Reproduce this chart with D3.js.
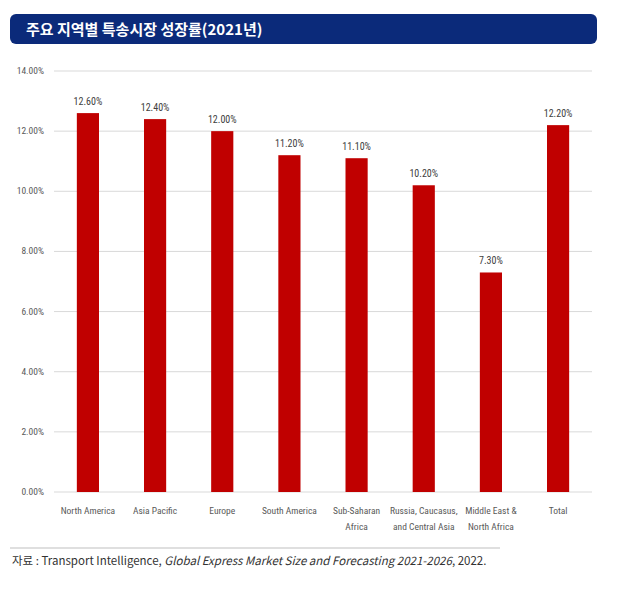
<!DOCTYPE html>
<html><head><meta charset="utf-8">
<script src="https://cdn.jsdelivr.net/npm/d3@7"></script>
<style>body{margin:0;background:#fff}</style>
</head><body><svg width="622" height="596"></svg>
<script>
var categories=[["North America"],["Asia Pacific"],["Europe"],["South America"],["Sub-Saharan","Africa"],["Russia, Caucasus,","and Central Asia"],["Middle East &","North Africa"],["Total"]]
var values=[12.6,12.4,12.0,11.2,11.1,10.2,7.3,12.2]
var ticks=[0,2,4,6,8,10,12,14]

var svg=d3.select("svg")
svg.append("rect").attr("x",10).attr("y",14).attr("width",587).attr("height",30).attr("rx",6).attr("fill","#0b2a7a")
svg.append("text").attr("x",26).attr("y",35).attr("fill","#fff").attr("font-family","Noto Sans CJK KR")
  .attr("font-size",15).attr("font-weight","bold").text("주요 지역별 특송시장 성장률(2021년)")

var x=d3.scaleBand().domain(d3.range(values.length)).range([54,592]).paddingInner(0.67).paddingOuter(0.34)
var y=d3.scaleLinear().domain([0,14]).range([492,71])
var f="Liberation Sans Narrow, Roboto Condensed, sans-serif"

svg.selectAll(".grid").data(ticks).enter().append("line")
  .attr("x1",54).attr("x2",592).attr("y1",d=>y(d)).attr("y2",d=>y(d)).attr("stroke","#d9d9d9")
svg.selectAll(".yl").data(ticks).enter().append("text")
  .attr("x",44).attr("y",d=>y(d)+3).attr("text-anchor","end").attr("font-family",f).attr("font-size",9.5).attr("fill","#595959")
  .text(d=>d.toFixed(2)+"%")

svg.selectAll(".bar").data(values).enter().append("rect")
  .attr("x",(d,i)=>x(i)).attr("width",x.bandwidth()).attr("y",d=>y(d)).attr("height",d=>y(0)-y(d)).attr("fill","#c00000")
svg.selectAll(".vl").data(values).enter().append("text")
  .attr("x",(d,i)=>x(i)+x.bandwidth()/2).attr("y",d=>y(d)-8).attr("text-anchor","middle")
  .attr("font-family",f).attr("font-size",10).attr("fill","#404040").text(d=>d.toFixed(2)+"%")

categories.forEach(function(c,i){
  c.forEach(function(t,j){
    svg.append("text").attr("x",x(i)+x.bandwidth()/2).attr("y",514+j*16).attr("text-anchor","middle")
      .attr("font-family",f).attr("font-size",9.5).attr("fill","#595959").text(t)
  })
})

svg.append("line").attr("x1",10).attr("x2",500).attr("y1",548).attr("y2",548).attr("stroke","#bfbfbf")
var src=svg.append("text").attr("x",12).attr("y",565).attr("font-family","Noto Sans CJK KR, sans-serif").attr("font-size",11.5).attr("fill","#333")
src.append("tspan").text("자료 : Transport  Intelligence,  ")
src.append("tspan").attr("font-style","italic").text("Global Express Market Size and Forecasting 2021-2026")
src.append("tspan").text(", 2022.")
</script></body></html>
